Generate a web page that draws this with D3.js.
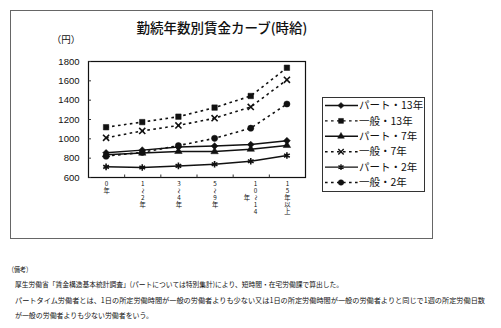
<!DOCTYPE html>
<html lang="ja">
<head>
<meta charset="utf-8">
<script src="https://cdn.jsdelivr.net/npm/d3@7"></script>
<style>
  html, body { margin: 0; padding: 0; background: #fff; }
  svg { display: block; }
  text { font-family: "Liberation Sans", "Noto Sans CJK JP", sans-serif; fill: #111; }
  .jp { font-family: "Noto Sans CJK JP", sans-serif; }
</style>
</head>
<body>
<svg id="chart" width="501" height="328"></svg>
<script>
// Tenure categories (x axis) and hourly wage by group, in yen
const categories = ["0年", "1〜2年", "3〜4年", "5〜9年", "10〜14年", "15年以上"];
const part13 = [850, 878, 910, 920, 935, 975];
const ippan13 = [1115, 1168, 1224, 1318, 1438, 1730];
const part7 = [830, 848, 865, 863, 888, 927];
const ippan7 = [1005, 1077, 1133, 1208, 1325, 1605];
const part2 = [705, 698, 715, 732, 763, 822];
const ippan2 = [815, 855, 925, 1000, 1105, 1355];
const seriesNames = ["パート・13年", "一般・13年", "パート・7年", "一般・7年", "パート・2年", "一般・2年"];
const yTicks = [600, 800, 1000, 1200, 1400, 1600, 1800];
const title = "勤続年数別賃金カーブ(時給)";
const unitLabel = "（円）";
const notes = [
  "（備考）",
  "厚生労働省「賃金構造基本統計調査」(パートについては特別集計)により、短時間・在宅労働課で算出した。",
  "パートタイム労働者とは、1日の所定労働時間が一般の労働者よりも少ない又は1日の所定労働時間が一般の労働者よりと同じで1週の所定労働日数",
  "が一般の労働者よりも少ない労働者をいう。"
];

const svg = d3.select("#chart");

const diamond = d3.symbolDiamond2 || d3.symbolDiamond;
const series = [
  { name: seriesNames[0], values: part13, dashed: false, symbol: diamond, size: 30, filled: true },
  { name: seriesNames[1], values: ippan13, dashed: true, symbol: d3.symbolSquare, size: 30, filled: true },
  { name: seriesNames[2], values: part7, dashed: false, symbol: d3.symbolTriangle, size: 24, filled: true },
  { name: seriesNames[3], values: ippan7, dashed: true, symbol: d3.symbolX, size: 26, filled: false },
  { name: seriesNames[4], values: part2, dashed: false, symbol: d3.symbolAsterisk, size: 30, filled: false },
  { name: seriesNames[5], values: ippan2, dashed: true, symbol: d3.symbolCircle, size: 30, filled: true }
];

// outer frame
svg.append("rect")
  .attr("x", 10.5).attr("y", 10.5).attr("width", 422).attr("height", 228)
  .attr("fill", "none").attr("stroke", "#666").attr("stroke-width", 1);

// title
svg.append("text").attr("class", "jp")
  .attr("x", 222).attr("y", 33).attr("text-anchor", "middle")
  .attr("font-size", 13.5).attr("font-weight", 500)
  .text(title);

// unit label
svg.append("text").attr("class", "jp")
  .attr("x", 66).attr("y", 43).attr("text-anchor", "middle")
  .attr("font-size", 9.5)
  .text(unitLabel);

const plot = { left: 88, right: 305, top: 61, bottom: 177 };

const x = d3.scaleBand().domain(categories).range([plot.left, plot.right]);
const y = d3.scaleLinear().domain([600, 1800]).range([plot.bottom, plot.top]);

// plot area border
svg.append("rect")
  .attr("x", plot.left + 0.5).attr("y", plot.top + 0.5)
  .attr("width", plot.right - plot.left).attr("height", plot.bottom - plot.top)
  .attr("fill", "#fff").attr("stroke", "#111").attr("stroke-width", 1.2);

// y axis: inside ticks, labels on the left
const yAxis = d3.axisLeft(y).tickValues(yTicks).tickSize(-2.5).tickPadding(9).tickFormat(d3.format("d"));
const gy = svg.append("g").attr("transform", `translate(${plot.left + 0.5},0)`).call(yAxis);
gy.select(".domain").remove();
gy.selectAll("line").attr("stroke", "#333");
gy.selectAll("text").attr("font-size", 9.5).attr("font-family", "Liberation Sans, sans-serif").attr("fill", "#111");

// x axis: inside tick marks at category boundaries
const bounds = categories.slice(1).map(c => x(c));
svg.append("g").selectAll("line").data(bounds).join("line")
  .attr("x1", d => d + 0.5).attr("x2", d => d + 0.5)
  .attr("y1", plot.bottom + 0.5).attr("y2", plot.bottom - 2.5)
  .attr("stroke", "#333");

// x tick labels, set vertically in columns of up to five characters (right to left)
const rowH = 6.8, colW = 8.5, labelTop = 186.3;
const xl = svg.append("g").attr("class", "xlabels");
categories.forEach(cat => {
  const chars = Array.from(cat);
  const cols = [];
  for (let i = 0; i < chars.length; i += 5) cols.push(chars.slice(i, i + 5));
  const maxRows = d3.max(cols, c => c.length);
  const cx = x(cat) + x.bandwidth() / 2 + 0.5;
  cols.forEach((col, ci) => {
    const colX = cx + (cols.length - 1) * colW / 2 - ci * colW;
    const offset = (maxRows - col.length) * rowH / 2;
    col.forEach((ch, ri) => {
      const cy = labelTop + offset + ri * rowH;
      const t = xl.append("text").attr("class", "jp")
        .attr("text-anchor", "middle")
        .attr("font-size", 6.3)
        .text(ch);
      if (ch === "〜") {
        t.attr("transform", `translate(${colX},${cy - 2.2}) rotate(90)`).attr("dy", "0.35em").attr("font-size", 5.5);
      } else {
        t.attr("x", colX).attr("y", cy);
      }
    });
  });
});

// lines and markers
const line = d3.line().x((d, i) => x(categories[i]) + x.bandwidth() / 2).y(d => y(d));
const gLines = svg.append("g");
series.forEach(s => {
  gLines.append("path")
    .attr("d", line(s.values))
    .attr("fill", "none").attr("stroke", "#111")
    .attr("stroke-width", s.dashed ? 1.6 : 1.5)
    .attr("stroke-dasharray", s.dashed ? "2.6,3.4" : null);
});
series.forEach(s => {
  const sym = d3.symbol().type(s.symbol).size(s.size);
  gLines.append("g").selectAll("path").data(s.values).join("path")
    .attr("transform", (d, i) => `translate(${x(categories[i]) + x.bandwidth() / 2},${y(d)})`)
    .attr("d", sym)
    .attr("fill", s.filled ? "#111" : "none")
    .attr("stroke", "#111")
    .attr("stroke-width", s.filled ? 0.5 : 1.6);
});

// legend
const lg = svg.append("g");
lg.append("rect").attr("x", 322.5).attr("y", 97.5).attr("width", 102).attr("height", 94)
  .attr("fill", "#fff").attr("stroke", "#333").attr("stroke-width", 1);
series.forEach((s, i) => {
  const ly = 105.5 + i * 15.4;
  lg.append("line").attr("x1", 325).attr("x2", 358).attr("y1", ly).attr("y2", ly)
    .attr("stroke", "#111").attr("stroke-width", 1.4)
    .attr("stroke-dasharray", s.dashed ? "2.6,3.4" : null);
  lg.append("path")
    .attr("transform", `translate(341,${ly})`)
    .attr("d", d3.symbol().type(s.symbol).size(s.size * 0.8))
    .attr("fill", s.filled ? "#111" : "none")
    .attr("stroke", "#111").attr("stroke-width", s.filled ? 0.5 : 1.4);
  lg.append("text").attr("class", "jp")
    .attr("x", 359).attr("y", ly).attr("dy", "0.36em")
    .attr("font-size", 10.5)
    .text(s.name);
});

// notes below the chart
const noteSpec = [
  { x: 8, y: 272, len: 24 },
  { x: 15, y: 287, len: 328 },
  { x: 15, y: 303, len: 470 },
  { x: 15, y: 318, len: 138 }
];
notes.forEach((n, i) => {
  const sp = noteSpec[i];
  svg.append("text").attr("class", "jp")
    .attr("x", sp.x).attr("y", sp.y)
    .attr("font-size", 7)
    .attr("fill", "#000")
    .attr("textLength", sp.len).attr("lengthAdjust", "spacingAndGlyphs")
    .text(n);
});
</script>
</body>
</html>
